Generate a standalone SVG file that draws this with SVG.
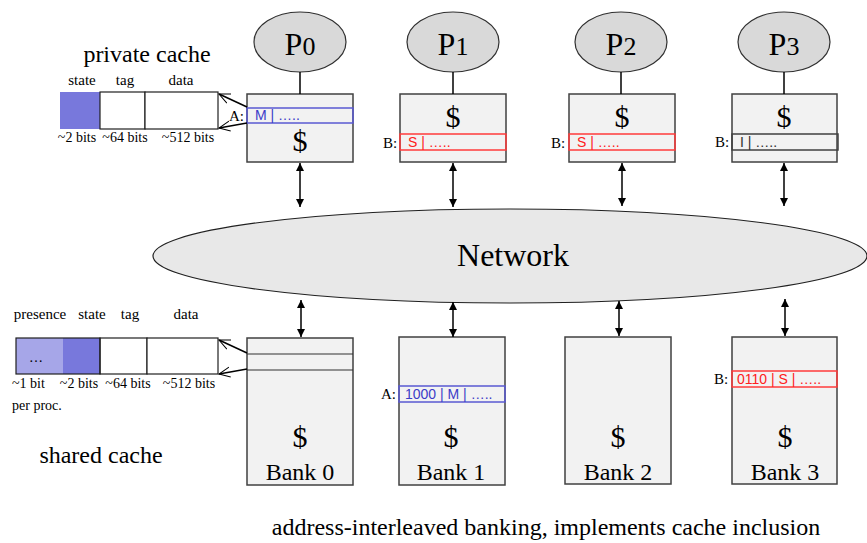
<svg xmlns="http://www.w3.org/2000/svg" width="867" height="543" viewBox="0 0 867 543" font-family="Liberation Serif, Times New Roman, serif">
  <defs>
    <marker id="tri" viewBox="0 0 10 10" refX="10" refY="5" markerWidth="8" markerHeight="8" markerUnits="userSpaceOnUse" orient="auto-start-reverse">
      <path d="M0,0 L10,5 L0,10 z" fill="#000"/>
    </marker>
    <marker id="open" viewBox="0 0 12 12" refX="11" refY="6" markerWidth="12" markerHeight="12" markerUnits="userSpaceOnUse" orient="auto">
      <path d="M0,1 L11,6 L0,11" fill="none" stroke="#000" stroke-width="1"/>
    </marker>
  </defs>
  <style>
    .sans { font-family: "Liberation Sans", Arial, sans-serif; }
    .proc { fill: #d9d9d9; stroke: #303030; stroke-width: 1.2; }
    .box { fill: #f2f2f2; stroke: #404040; stroke-width: 1.5; }
    .row { fill: none; stroke-width: 1.5; }
    .blue { stroke: #5a5ad2; }
    .red { stroke: #ff3b3b; }
    .grey { stroke: #404040; }
    .cell { fill: #fff; stroke: #202020; stroke-width: 1.2; }
    .link { stroke: #000; stroke-width: 1.5; fill: none; }
    .big { font-size: 32px; }
    .dollar { font-size: 30px; }
    .lbl { font-size: 15px; }
    .head { font-size: 15px; }
    .small { font-size: 14px; }
    .entry { font-size: 14px; }
    .title { font-size: 24px; }
  </style>

  <!-- interconnect -->
  <g id="network">
    <ellipse cx="510" cy="256" rx="357" ry="47" fill="#e8e8e8" stroke="#202020" stroke-width="1.2"/>
    <text x="513" y="266" font-size="32" text-anchor="middle">Network</text>
  </g>

  <!-- processors -->
  <g id="p0">
    <ellipse class="proc" cx="300" cy="42" rx="46" ry="30"/>
    <text class="big" x="300" y="55" text-anchor="middle">P<tspan font-size="26">0</tspan></text>
  </g>
  <g id="p1">
    <ellipse class="proc" cx="453" cy="42" rx="46" ry="30"/>
    <text class="big" x="453" y="55" text-anchor="middle">P<tspan font-size="26">1</tspan></text>
  </g>
  <g id="p2">
    <ellipse class="proc" cx="621" cy="42" rx="46" ry="30"/>
    <text class="big" x="621" y="55" text-anchor="middle">P<tspan font-size="26">2</tspan></text>
  </g>
  <g id="p3">
    <ellipse class="proc" cx="784" cy="42" rx="46" ry="30"/>
    <text class="big" x="784" y="55" text-anchor="middle">P<tspan font-size="26">3</tspan></text>
  </g>

  <!-- private caches -->
  <g id="cache0">
    <rect class="box" x="247" y="94" width="106" height="68"/>
    <rect class="row blue" x="247" y="108" width="106" height="15"/>
    <text class="sans entry" x="255" y="120" fill="#3c3cc8">M | …..</text>
    <text class="lbl" x="229" y="121">A:</text>
    <text class="dollar" x="300" y="151" text-anchor="middle">$</text>
  </g>
  <g id="cache1">
    <rect class="box" x="400" y="94" width="106" height="68"/>
    <rect class="row red" x="400" y="134" width="106" height="16"/>
    <text class="sans entry" x="408" y="147" fill="#ff2020">S | …..</text>
    <text class="lbl" x="383" y="148">B:</text>
    <text class="dollar" x="453" y="127" text-anchor="middle">$</text>
  </g>
  <g id="cache2">
    <rect class="box" x="569" y="94" width="106" height="68"/>
    <rect class="row red" x="569" y="134" width="106" height="16"/>
    <text class="sans entry" x="577" y="147" fill="#ff2020">S | …..</text>
    <text class="lbl" x="551" y="148">B:</text>
    <text class="dollar" x="622" y="127" text-anchor="middle">$</text>
  </g>
  <g id="cache3">
    <rect class="box" x="732" y="94" width="105" height="68"/>
    <rect class="row grey" x="732" y="134" width="106" height="16"/>
    <text class="sans entry" x="740" y="147" fill="#303030">I | …..</text>
    <text class="lbl" x="715" y="147">B:</text>
    <text class="dollar" x="784" y="127" text-anchor="middle">$</text>
  </g>

  <!-- private cache line layout -->
  <g id="private-layout">
    <text class="title" x="147" y="62" text-anchor="middle">private cache</text>
    <text class="head" x="82" y="85" text-anchor="middle">state</text>
    <text class="head" x="125" y="85" text-anchor="middle">tag</text>
    <text class="head" x="181" y="85" text-anchor="middle">data</text>
    <rect x="60" y="92" width="40" height="37" fill="#7878dc"/>
    <rect class="cell" x="100" y="92" width="45" height="37"/>
    <rect class="cell" x="145" y="92" width="73" height="37"/>
    <text class="small" x="77" y="142" text-anchor="middle">~2 bits</text>
    <text class="small" x="125" y="142" text-anchor="middle">~64 bits</text>
    <text class="small" x="188" y="142" text-anchor="middle">~512 bits</text>
  </g>

  <!-- shared cache line layout -->
  <g id="shared-layout">
    <text class="head" x="40" y="319" text-anchor="middle">presence</text>
    <text class="head" x="92" y="319" text-anchor="middle">state</text>
    <text class="head" x="130" y="319" text-anchor="middle">tag</text>
    <text class="head" x="186" y="319" text-anchor="middle">data</text>
    <rect x="16" y="338" width="47" height="36" fill="#a6a6e8"/>
    <rect x="63" y="338" width="37" height="36" fill="#7878dc"/>
    <rect class="cell" x="100" y="338" width="47" height="36"/>
    <rect class="cell" x="147" y="338" width="71" height="36"/>
    <rect x="16" y="338" width="84" height="36" fill="none" stroke="#202020" stroke-width="1.2"/>
    <text class="small" x="36" y="362" text-anchor="middle">…</text>
    <text class="small" x="12" y="388">~1 bit</text>
    <text class="small" x="79" y="388" text-anchor="middle">~2 bits</text>
    <text class="small" x="128" y="388" text-anchor="middle">~64 bits</text>
    <text class="small" x="189" y="388" text-anchor="middle">~512 bits</text>
    <text class="small" x="12" y="410">per proc.</text>
    <text class="title" x="101" y="463" text-anchor="middle">shared cache</text>
  </g>

  <!-- shared cache banks -->
  <g id="bank0">
    <rect class="box" x="247" y="338" width="106" height="147"/>
    <line x1="247" y1="354" x2="353" y2="354" stroke="#303030" stroke-width="1.2"/>
    <line x1="247" y1="370" x2="353" y2="370" stroke="#303030" stroke-width="1.2"/>
    <text class="dollar" x="300" y="447" text-anchor="middle">$</text>
    <text class="title" x="300" y="480" text-anchor="middle">Bank 0</text>
  </g>
  <g id="bank1">
    <rect class="box" x="399" y="337" width="106" height="148"/>
    <rect class="row blue" x="399" y="386" width="106" height="16"/>
    <text class="sans entry" x="405" y="399" fill="#3c3cc8">1000 | M | …..</text>
    <text class="lbl" x="381" y="399">A:</text>
    <text class="dollar" x="451" y="447" text-anchor="middle">$</text>
    <text class="title" x="451" y="480" text-anchor="middle">Bank 1</text>
  </g>
  <g id="bank2">
    <rect class="box" x="565" y="337" width="106" height="147"/>
    <text class="dollar" x="618" y="447" text-anchor="middle">$</text>
    <text class="title" x="618" y="480" text-anchor="middle">Bank 2</text>
  </g>
  <g id="bank3">
    <rect class="box" x="732" y="337" width="105" height="147"/>
    <rect class="row red" x="732" y="371" width="105" height="16"/>
    <text class="sans entry" x="737" y="384" fill="#ff2020">0110 | S | …..</text>
    <text class="lbl" x="714" y="384">B:</text>
    <text class="dollar" x="785" y="447" text-anchor="middle">$</text>
    <text class="title" x="785" y="480" text-anchor="middle">Bank 3</text>
  </g>

  <text class="title" x="546" y="535" text-anchor="middle">address-interleaved banking, implements cache inclusion</text>

  <!-- connectors -->
  <g id="connectors">
    <line class="link" x1="300" y1="72" x2="300" y2="94" stroke-width="2"/>
    <line class="link" x1="453" y1="72" x2="453" y2="94"/>
    <line class="link" x1="621" y1="72" x2="621" y2="94"/>
    <line class="link" x1="784" y1="72" x2="784" y2="94" stroke-width="2"/>

    <line class="link" x1="300" y1="163" x2="300" y2="207" marker-start="url(#tri)" marker-end="url(#tri)"/>
    <line class="link" x1="453" y1="163" x2="453" y2="207" marker-start="url(#tri)" marker-end="url(#tri)"/>
    <line class="link" x1="622" y1="163" x2="622" y2="206" marker-start="url(#tri)" marker-end="url(#tri)"/>
    <line class="link" x1="784" y1="163" x2="784" y2="206" marker-start="url(#tri)" marker-end="url(#tri)"/>

    <line class="link" x1="301" y1="300" x2="301" y2="337" marker-start="url(#tri)" marker-end="url(#tri)"/>
    <line class="link" x1="453" y1="302" x2="453" y2="337" marker-start="url(#tri)" marker-end="url(#tri)"/>
    <line class="link" x1="619" y1="301" x2="619" y2="336" marker-start="url(#tri)" marker-end="url(#tri)"/>
    <line class="link" x1="785" y1="299" x2="785" y2="336" marker-start="url(#tri)" marker-end="url(#tri)"/>

    <line class="link" stroke-width="1" x1="247" y1="107" x2="219" y2="94" marker-end="url(#open)"/>
    <line class="link" stroke-width="1" x1="247" y1="123" x2="219" y2="128" marker-end="url(#open)"/>
    <line class="link" stroke-width="1" x1="247" y1="353" x2="219" y2="340" marker-end="url(#open)"/>
    <line class="link" stroke-width="1" x1="247" y1="369" x2="219" y2="374" marker-end="url(#open)"/>
  </g>
</svg>
